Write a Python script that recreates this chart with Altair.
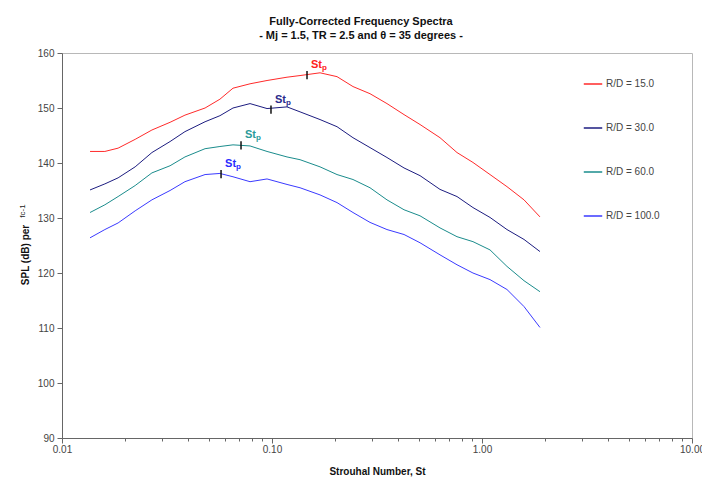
import altair as alt
import pandas as pd

# Strouhal number grid
st = [0.0136, 0.0160, 0.0185, 0.0223, 0.0268, 0.0327, 0.0385, 0.0480, 0.0565, 0.0652,
      0.0786, 0.0947, 0.1179, 0.1360, 0.1693, 0.2040, 0.2430, 0.2929, 0.3528, 0.4253,
      0.5068, 0.6310, 0.7603, 0.9057, 1.092, 1.315, 1.585, 1.888]

spl_15 = [142.1, 142.1, 142.7, 144.3, 146.0, 147.4, 148.7, 150.0, 151.6, 153.6,
          154.4, 155.0, 155.6, 155.9, 156.4, 155.7, 153.9, 152.6, 150.8, 148.8,
          147.0, 144.6, 141.9, 140.1, 137.9, 135.7, 133.3, 130.2]
spl_30 = [135.1, 136.2, 137.3, 139.3, 141.9, 143.9, 145.7, 147.5, 148.6, 150.0,
          150.8, 149.9, 150.2, 149.3, 147.9, 146.6, 144.6, 142.8, 141.0, 139.1,
          137.7, 135.2, 133.9, 131.9, 130.1, 127.9, 126.1, 123.9]
spl_60 = [131.0, 132.4, 133.9, 135.9, 138.2, 139.5, 141.1, 142.6, 143.0, 143.3,
          143.1, 142.1, 141.1, 140.6, 139.3, 137.9, 137.0, 135.5, 133.3, 131.5,
          130.4, 128.2, 126.6, 125.7, 124.2, 121.2, 118.6, 116.6]
spl_100 = [126.4, 127.9, 129.1, 131.3, 133.3, 135.0, 136.6, 137.9, 138.1, 137.5,
           136.6, 137.1, 136.1, 135.5, 134.2, 132.8, 131.0, 129.2, 127.9, 127.0,
           125.5, 123.3, 121.5, 120.0, 118.8, 117.0, 113.9, 110.1]

series_names = ["R/D = 15.0", "R/D = 30.0", "R/D = 60.0", "R/D = 100.0"]
series_colors = ["#ff2a2a", "#1c1c80", "#1a8c8c", "#3a3aff"]
label_colors = ["#ff2020", "#2a2a8c", "#2a9a9a", "#2a2aff"]

# Peak Strouhal numbers (St_p) marked on each curve
stp = [0.1468, 0.0989, 0.0712, 0.0572]
stp_spl = [156.0, 149.7, 143.2, 138.0]

rows = []
for name, vals in zip(series_names, [spl_15, spl_30, spl_60, spl_100]):
    for s, v in zip(st, vals):
        rows.append({"St": s, "SPL": v, "series": name})
df = pd.DataFrame(rows)

peaks = pd.DataFrame({"St": stp, "SPL": stp_spl, "series": series_names})

FONT = "Liberation Sans"

color_scale = alt.Scale(domain=series_names, range=series_colors)
x_scale = alt.Scale(type="log", domain=[0.01, 10], nice=False)
y_scale = alt.Scale(domain=[90, 160], nice=False, zero=False)

x_ticks = [0.01, 0.02, 0.03, 0.04, 0.05, 0.06, 0.07, 0.08, 0.09,
           0.1, 0.2, 0.3, 0.4, 0.5, 0.6, 0.7, 0.8, 0.9,
           1, 2, 3, 4, 5, 6, 7, 8, 9, 10]
y_ticks = [90, 100, 110, 120, 130, 140, 150, 160]

major_test = "datum.value == 0.01 || datum.value == 0.1 || datum.value == 1 || datum.value == 10"

x_axis = alt.Axis(
    values=x_ticks,
    labelExpr="(" + major_test + ") ? format(datum.value, '.2f') : ''",
    title="Strouhal Number, St",
    tickSize={"condition": {"test": major_test, "value": 5}, "value": 3},
    grid=False,
    labelFlush=False,
    labelOverlap=False,
    labelPadding=1,
    titlePadding=12,
)
y_axis = alt.Axis(values=y_ticks, title=None, grid=False, tickSize=5, labelPadding=3)

lines = alt.Chart(df).mark_line(strokeWidth=1, interpolate="linear").encode(
    x=alt.X("St:Q", scale=x_scale, axis=x_axis),
    y=alt.Y("SPL:Q", scale=y_scale, axis=y_axis),
    color=alt.Color(
        "series:N",
        scale=color_scale,
        sort=series_names,
        legend=alt.Legend(
            title=None,
            orient="none",
            legendX=521,
            legendY=21,
            symbolType="stroke",
            symbolSize=340,
            symbolStrokeWidth=1.5,
            labelFontSize=10,
            labelFont=FONT,
            labelColor="#444444",
            labelOffset=3,
            rowPadding=29,
        ),
    ),
    detail="series:N",
)

tick_marks = alt.Chart(peaks).transform_calculate(
    y_lo="datum.SPL - 0.75", y_hi="datum.SPL + 0.75"
).mark_rule(color="#111111", strokeWidth=1.5).encode(
    x=alt.X("St:Q", scale=x_scale),
    y=alt.Y("y_lo:Q", scale=y_scale),
    y2="y_hi:Q",
)

label_scale = alt.Scale(domain=series_names, range=label_colors)

st_text = alt.Chart(peaks).mark_text(
    text="St", align="left", baseline="alphabetic", dx=4, dy=-7,
    fontSize=11, fontWeight="bold", font=FONT,
).encode(
    x=alt.X("St:Q", scale=x_scale),
    y=alt.Y("SPL:Q", scale=y_scale),
    color=alt.Color("series:N", scale=label_scale, legend=None),
)

p_text = alt.Chart(peaks).mark_text(
    text="p", align="left", baseline="alphabetic", dx=15, dy=-5,
    fontSize=8, fontWeight="bold", font=FONT,
).encode(
    x=alt.X("St:Q", scale=x_scale),
    y=alt.Y("SPL:Q", scale=y_scale),
    color=alt.Color("series:N", scale=label_scale, legend=None),
)

ytitle_main = alt.Chart(pd.DataFrame({"t": ["SPL (dB) per"]})).mark_text(
    angle=270, fontSize=10, fontWeight="bold", font=FONT, color="#111111",
    align="center", baseline="middle",
).encode(x=alt.value(-36), y=alt.value(202), text="t:N")

ytitle_sub = alt.Chart(pd.DataFrame({"t": ["fc-1"]})).mark_text(
    angle=270, fontSize=8, font=FONT, color="#222222",
    align="center", baseline="middle",
).encode(x=alt.value(-39), y=alt.value(158), text="t:N")

chart = alt.layer(lines, tick_marks, st_text, p_text, ytitle_main, ytitle_sub).resolve_scale(
    color="independent"
).properties(
    width=630,
    height=385,
    autosize=alt.AutoSizeParams(type="none"),
    padding={"left": 62, "top": 53, "right": 10, "bottom": 40},
    background="white",
    title=alt.TitleParams(
        text=["Fully-Corrected Frequency Spectra", "- Mj = 1.5, TR = 2.5 and \u03b8 = 35 degrees -"],
        font=FONT,
        fontSize=11,
        fontWeight="bold",
        color="#111111",
        anchor="middle",
        dx=-16,
        offset=7,
        lineHeight=14,
    ),
).configure_view(
    stroke="#b8b8b8", strokeWidth=1
).configure_axis(
    labelFont=FONT,
    labelFontSize=10,
    labelColor="#444444",
    titleFont=FONT,
    titleFontSize=10,
    titleFontWeight="bold",
    titleColor="#111111",
    domainColor="#666666",
    tickColor="#666666",
)

chart.save("out.html", embed_options={"renderer": "svg", "actions": False})
